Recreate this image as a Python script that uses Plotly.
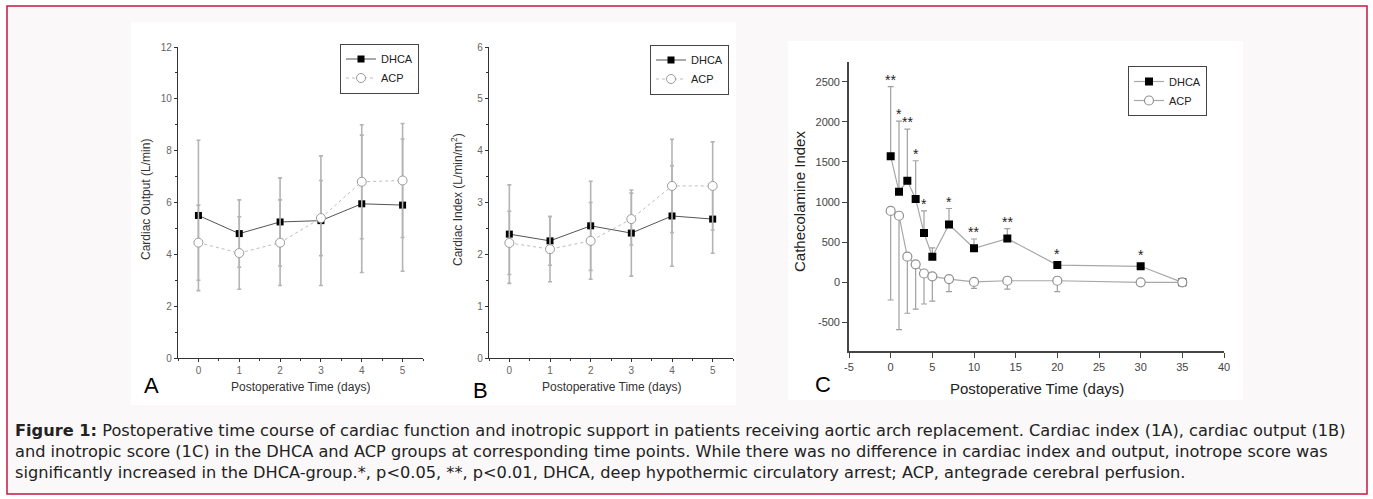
import plotly.graph_objects as go

W, H = 1373, 499

# ---------------- data ----------------
days_ab = [0, 1, 2, 3, 4, 5]
co_dhca = [5.5, 4.8, 5.25, 5.3, 5.95, 5.9]
co_dhca_sd = [2.9, 1.3, 1.7, 2.5, 2.65, 2.55]
co_acp = [4.45, 4.05, 4.45, 5.4, 6.8, 6.85]
co_acp_sd = [1.45, 1.4, 1.65, 1.45, 2.2, 2.2]

ci_dhca = [2.39, 2.26, 2.55, 2.41, 2.74, 2.68]
ci_dhca_sd = [0.95, 0.47, 0.86, 0.83, 0.97, 0.66]
ci_acp = [2.22, 2.10, 2.26, 2.68, 3.32, 3.32]
ci_acp_sd = [0.61, 0.63, 0.74, 0.50, 0.90, 0.85]

days_c = [0, 1, 2, 3, 4, 5, 7, 10, 14, 20, 30, 35]
cat_dhca = [1570, 1130, 1265, 1040, 615, 320, 720, 425, 545, 215, 200, 0]
cat_dhca_up = [870, 880, 645, 475, 275, 110, 200, 115, 125, 0, 0, 0]
cat_acp = [890, 830, 320, 225, 110, 75, 40, 5, 20, 20, 0, 0]
cat_acp_down = [1110, 1420, 705, 560, 380, 310, 155, 80, 105, 135, 0, 0]
stars = ["**", "*", "**", "*", "*", "", "*", "**", "**", "*", "*", ""]

c_xticks = [-5, 0, 5, 10, 15, 20, 25, 30, 35, 40]
c_yticks = [-500, 0, 500, 1000, 1500, 2000, 2500]

caption_lines = [
    "<b>Figure 1:</b> Postoperative time course of cardiac function and inotropic support in patients receiving aortic arch replacement. Cardiac index (1A), cardiac output (1B)",
    "and inotropic score (1C) in the DHCA and ACP groups at corresponding time points. While there was no difference in cardiac index and output, inotrope score was",
    "significantly increased in the DHCA-group.*, p<0.05, **, p<0.01, DHCA, deep hypothermic circulatory arrest; ACP, antegrade cerebral perfusion.",
]

FONT = "Arial, Liberation Sans, sans-serif"
CAPFONT = "DejaVu Sans, Arial, sans-serif"


def px(x):
    return x / W


def py(y):
    return 1 - y / H


fig = go.Figure()

# ---------- panel A ----------
fig.add_trace(go.Scatter(
    x=days_ab, y=co_dhca, name="DHCA", mode="lines+markers",
    line=dict(color="#555555", width=1),
    marker=dict(symbol="square", size=7, color="black"),
    error_y=dict(type="data", array=co_dhca_sd, color="#b4b4b4", thickness=1.6, width=2),
    xaxis="x", yaxis="y", legend="legend"))
fig.add_trace(go.Scatter(
    x=days_ab, y=co_acp, name="ACP", mode="lines+markers",
    line=dict(color="#bdbdbd", width=1, dash="dot"),
    marker=dict(symbol="circle", size=9, color="white", line=dict(color="#9a9a9a", width=1)),
    error_y=dict(type="data", array=co_acp_sd, color="#b4b4b4", thickness=1.6, width=2),
    xaxis="x", yaxis="y", legend="legend"))

# ---------- panel B ----------
fig.add_trace(go.Scatter(
    x=days_ab, y=ci_dhca, name="DHCA", mode="lines+markers",
    line=dict(color="#555555", width=1),
    marker=dict(symbol="square", size=7, color="black"),
    error_y=dict(type="data", array=ci_dhca_sd, color="#b4b4b4", thickness=1.6, width=2),
    xaxis="x2", yaxis="y2", legend="legend2"))
fig.add_trace(go.Scatter(
    x=days_ab, y=ci_acp, name="ACP", mode="lines+markers",
    line=dict(color="#bdbdbd", width=1, dash="dot"),
    marker=dict(symbol="circle", size=9, color="white", line=dict(color="#9a9a9a", width=1)),
    error_y=dict(type="data", array=ci_acp_sd, color="#b4b4b4", thickness=1.6, width=2),
    xaxis="x2", yaxis="y2", legend="legend2"))

# ---------- panel C ----------
fig.add_trace(go.Scatter(
    x=days_c, y=cat_dhca, name="DHCA", mode="lines+markers",
    line=dict(color="#a8a8a8", width=1.2),
    marker=dict(symbol="square", size=8, color="black"),
    error_y=dict(type="data", symmetric=False, array=cat_dhca_up,
                 arrayminus=[0] * len(cat_dhca_up), color="#a0a0a0", thickness=1.2, width=3),
    xaxis="x3", yaxis="y3", legend="legend3"))
fig.add_trace(go.Scatter(
    x=days_c, y=cat_acp, name="ACP", mode="lines+markers",
    line=dict(color="#a8a8a8", width=1.2),
    marker=dict(symbol="circle", size=9, color="white", line=dict(color="#909090", width=1.2)),
    error_y=dict(type="data", symmetric=False, array=[0] * len(cat_acp_down),
                 arrayminus=cat_acp_down, color="#a0a0a0", thickness=1.2, width=3),
    xaxis="x3", yaxis="y3", legend="legend3"))

annotations = []
for xv, yv, up, s in zip(days_c, cat_dhca, cat_dhca_up, stars):
    if s:
        annotations.append(dict(
            x=xv, y=yv + up, xref="x3", yref="y3", text=s, showarrow=False,
            xanchor="center", yanchor="bottom", yshift=(-3 if up > 0 else 1),
            font=dict(family=FONT, size=14, color="#222")))


def label(x, y, text, font, angle=0):
    return dict(x=px(x), y=py(y), xref="paper", yref="paper", text=text, showarrow=False,
                xanchor="center", yanchor="middle", textangle=angle, font=font)


small_title = dict(family=FONT, size=12, color="#333")
big_title = dict(family=FONT, size=15, color="#222")
panel_font = dict(family=FONT, size=22, color="black")
annotations += [
    label(300, 387, "Postoperative Time (days)", small_title),
    label(611, 387, "Postoperative Time (days)", small_title),
    label(146, 200, "Cardiac Output (L/min)", small_title, -90),
    label(457, 200, "Cardiac Index (L/min/m<sup>2</sup>)", small_title, -90),
    label(1037, 388, "Postoperative Time (days)", big_title),
    label(800, 202, "Cathecolamine Index", big_title, -90),
    label(151, 385, "A", panel_font),
    label(480, 390, "B", panel_font),
    label(823, 384, "C", panel_font),
]
for line, yy in zip(caption_lines, [430, 451, 472]):
    annotations.append(dict(
        x=px(13), y=py(yy), xref="paper", yref="paper", text=line, showarrow=False,
        xanchor="left", yanchor="middle", align="left",
        font=dict(family=CAPFONT, size=16.2, color="#222")))

shapes = [
    dict(type="rect", xref="paper", yref="paper", x0=px(7), x1=px(1367), y0=py(494), y1=py(6),
         fillcolor="#faf8f9", line=dict(color="#c8173f", width=1.5), layer="below"),
    dict(type="rect", xref="paper", yref="paper", x0=px(131), x1=px(736), y0=py(405), y1=py(22),
         fillcolor="white", line=dict(width=0), layer="below"),
    dict(type="rect", xref="paper", yref="paper", x0=px(788), x1=px(1243), y0=py(400), y1=py(41),
         fillcolor="white", line=dict(width=0), layer="below"),
]

tickfont_ab = dict(family=FONT, size=10, color="#666")
axis_ab = dict(showline=True, linecolor="#333", linewidth=1.4, ticks="outside", ticklen=3,
               tickcolor="#333", tickwidth=1, showgrid=False, zeroline=False, tickfont=tickfont_ab,
               mirror=False, automargin=False)

legend_style = dict(bgcolor="white", bordercolor="#444", borderwidth=1,
                    font=dict(family=FONT, size=11, color="#222"),
                    xanchor="left", yanchor="middle", tracegroupgap=0, itemwidth=30)

fig.update_layout(
    width=W, height=H, margin=dict(l=0, r=0, t=0, b=0, pad=0, autoexpand=False),
    paper_bgcolor="white", plot_bgcolor="rgba(0,0,0,0)",
    font=dict(family=FONT),
    xaxis=dict(domain=[px(178), px(423)], range=[-0.5, 5.5], tickvals=days_ab,
               minor=dict(dtick=0.5, tick0=-0.5, ticks="outside", ticklen=2, tickcolor="#333"),
               anchor="y", **axis_ab),
    yaxis=dict(domain=[py(358), py(47)], range=[0, 12], dtick=2,
               minor=dict(dtick=1, ticks="outside", ticklen=2, tickcolor="#333"),
               anchor="x", **axis_ab),
    xaxis2=dict(domain=[px(489), px(733)], range=[-0.5, 5.5], tickvals=days_ab,
                minor=dict(dtick=0.5, tick0=-0.5, ticks="outside", ticklen=2, tickcolor="#333"),
                anchor="y2", **axis_ab),
    yaxis2=dict(domain=[py(358), py(47)], range=[0, 6], dtick=1,
                minor=dict(dtick=0.5, ticks="outside", ticklen=2, tickcolor="#333"),
                anchor="x2", **axis_ab),
    xaxis3=dict(domain=[px(849), px(1224)], range=[-5, 40], anchor="y3",
                tickvals=c_xticks, ticktext=[str(v) for v in c_xticks],
                showline=True, linecolor="#444", linewidth=1.6, ticks="outside", ticklen=5,
                tickcolor="#444", showgrid=False, zeroline=False, automargin=False,
                tickfont=dict(family=FONT, size=11, color="#444")),
    yaxis3=dict(domain=[py(350.7), py(62.3)], range=[-852, 2742],
                tickvals=c_yticks, ticktext=[str(v) for v in c_yticks],
                anchor="x3", showline=True, linecolor="#444", linewidth=1.6, ticks="outside", ticklen=5,
                tickcolor="#444", showgrid=False, zeroline=False, automargin=False,
                tickfont=dict(family=FONT, size=11, color="#444")),
    legend=dict(x=px(340), y=py(68.5), **legend_style),
    legend2=dict(x=px(650), y=py(69.5), **legend_style),
    legend3=dict(x=px(1128), y=py(91), **legend_style),
    annotations=annotations,
    shapes=shapes,
    showlegend=True,
)

fig.write_html("out.html", config={"displayModeBar": False},
               post_script="document.body.style.margin='0';document.body.style.padding='0';")
